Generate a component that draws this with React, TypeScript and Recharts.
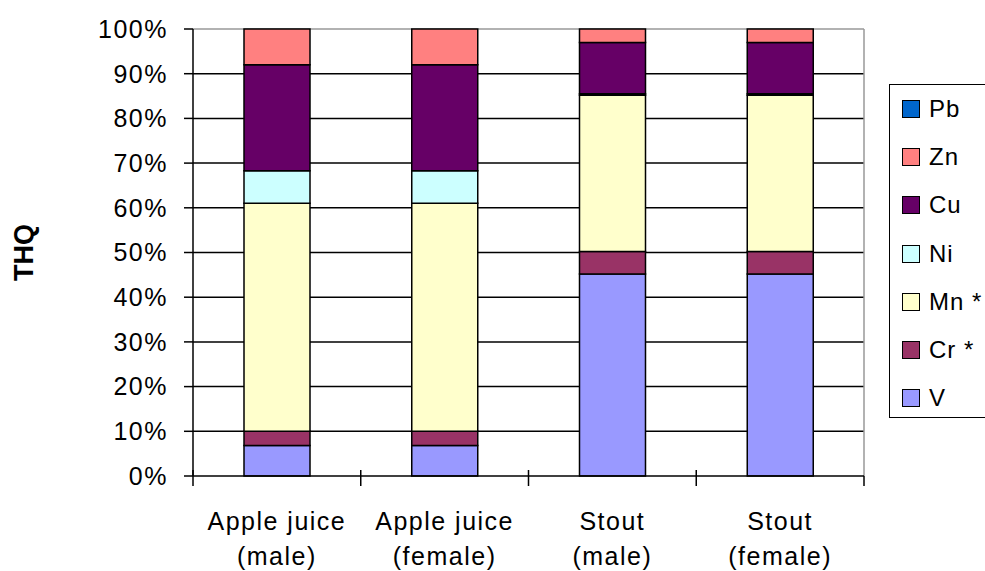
import { BarChart, Bar, XAxis, YAxis, CartesianGrid } from "recharts";

const categories = [
  ["Apple juice", "(male)"],
  ["Apple juice", "(female)"],
  ["Stout", "(male)"],
  ["Stout", "(female)"],
];

// share of THQ, %, stacked bottom -> top
const vValues = [6.8, 6.8, 45.2, 45.2];
const crValues = [3.2, 3.2, 5.0, 5.0];
const mnValues = [51.0, 51.0, 35.0, 35.0];
const niValues = [7.3, 7.3, 0.3, 0.3];
const cuValues = [23.7, 23.7, 11.5, 11.5];
const znValues = [8.0, 8.0, 3.0, 3.0];
const pbValues = [0, 0, 0, 0];

const yTicks = [0, 10, 20, 30, 40, 50, 60, 70, 80, 90, 100];

const series = [
  { key: "V", name: "V", color: "#9999FF", values: vValues },
  { key: "Cr", name: "Cr *", color: "#993366", values: crValues },
  { key: "Mn", name: "Mn *", color: "#FFFFCC", values: mnValues },
  { key: "Ni", name: "Ni", color: "#CCFFFF", values: niValues },
  { key: "Cu", name: "Cu", color: "#660066", values: cuValues },
  { key: "Zn", name: "Zn", color: "#FF8080", values: znValues },
  { key: "Pb", name: "Pb", color: "#0066CC", values: pbValues },
];

const data = categories.map((c, i) => {
  const row: Record<string, number | string> = { name: c.join(" ") };
  series.forEach((s) => (row[s.key] = s.values[i]));
  return row;
});

const W = 985;
const H = 571;
const M = { top: 29, right: 121, bottom: 0, left: 0 };
const Y_AXIS_W = 193;
const X_AXIS_H = 95;
const PLOT_W = W - M.left - M.right - Y_AXIS_W;
const BAND = PLOT_W / categories.length;

const FONT = "'Liberation Sans', Arial, sans-serif";

function XTick(props: any) {
  const { x, y, index } = props;
  const [l1, l2] = categories[index];
  const left = x - BAND / 2;
  return (
    <g>
      <line x1={left} x2={left} y1={y - 6} y2={y + 10} stroke="#000" strokeWidth={1.5} />
      {index === categories.length - 1 && (
        <line x1={left + BAND} x2={left + BAND} y1={y} y2={y + 10} stroke="#000" strokeWidth={1.5} />
      )}
      <text x={x} y={y + 54} textAnchor="middle" fontFamily={FONT} fontSize={25} letterSpacing={1.5} fill="#000">
        {l1}
      </text>
      <text x={x} y={y + 89} textAnchor="middle" fontFamily={FONT} fontSize={25} letterSpacing={1.5} fill="#000">
        {l2}
      </text>
    </g>
  );
}

// rotated axis title, centred on the plot height
function YTitle(props: any) {
  const { viewBox } = props;
  const cx = 24;
  const cy = viewBox.y + viewBox.height / 2;
  return (
    <text
      x={cx}
      y={cy}
      transform={`rotate(-90 ${cx} ${cy})`}
      textAnchor="middle"
      dominantBaseline="central"
      fontFamily={FONT}
      fontSize={27}
      fontWeight={700}
      fill="#000"
    >
      THQ
    </text>
  );
}

export default function App() {
  return (
    <div style={{ position: "absolute", left: 0, top: 0, width: W, height: H, background: "#fff" }}>
      <BarChart width={W} height={H} data={data} margin={M} barSize={66}>
        <CartesianGrid
          horizontalValues={[10, 20, 30, 40, 50, 60, 70, 80, 90]}
          vertical={false}
          stroke="#000"
          strokeWidth={1.5}
        />
        <CartesianGrid
          horizontalValues={[100]}
          verticalCoordinatesGenerator={({ offset }: any) => [offset.left + offset.width]}
          stroke="#999"
          strokeWidth={1.5}
        />
        <XAxis
          dataKey="name"
          height={X_AXIS_H}
          interval={0}
          tickSize={0}
          tickMargin={0}
          tickLine={false}
          axisLine={{ stroke: "#000", strokeWidth: 1.5 }}
          tick={<XTick />}
        />
        <YAxis
          width={Y_AXIS_W}
          domain={[0, 100]}
          ticks={yTicks}
          interval={0}
          tickFormatter={(v) => `${v}%`}
          tickSize={9}
          tickMargin={16}
          axisLine={{ stroke: "#000", strokeWidth: 1.5 }}
          tickLine={{ stroke: "#000", strokeWidth: 1.5 }}
          tick={{ fontFamily: FONT, fontSize: 25, letterSpacing: 1.5, fill: "#000" }}
          label={{ content: (p: any) => <YTitle {...p} /> }}
        />
        {series.map((s) => (
          <Bar
            key={s.key}
            dataKey={s.key}
            name={s.name}
            stackId="a"
            fill={s.color}
            stroke="#000"
            strokeWidth={1.5}
            isAnimationActive={false}
          />
        ))}
      </BarChart>

      {/* legend, Excel order: top series first */}
      <div
        style={{
          position: "absolute",
          left: 889,
          top: 84,
          width: 120,
          height: 334,
          border: "1.5px solid #000",
          boxSizing: "border-box",
          fontFamily: FONT,
          fontSize: 24,
          letterSpacing: 1,
          color: "#000",
          paddingTop: 0,
        }}
      >
        {[...series].reverse().map((s) => (
          <div key={s.key} style={{ display: "flex", alignItems: "center", height: 48.2, paddingLeft: 12 }}>
            <span
              style={{
                width: 16,
                height: 16,
                background: s.color,
                border: "1.5px solid #000",
                display: "inline-block",
                marginRight: 9,
              }}
            />
            {s.name}
          </div>
        ))}
      </div>
    </div>
  );
}
